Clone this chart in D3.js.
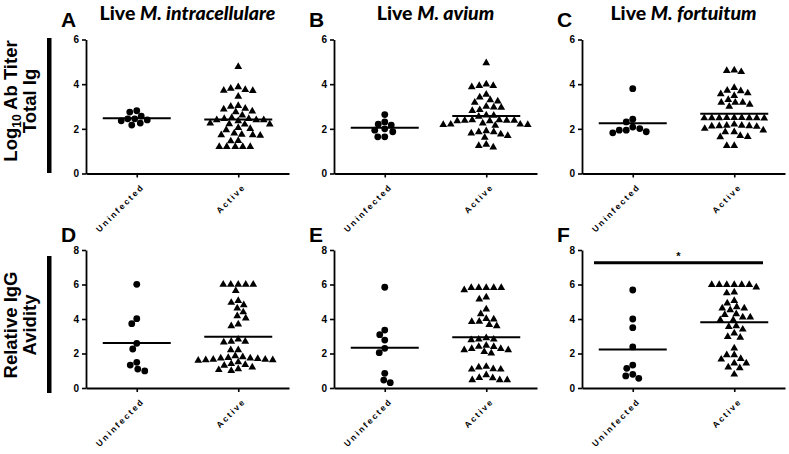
<!DOCTYPE html>
<html><head><meta charset="utf-8">
<script src="https://cdn.jsdelivr.net/npm/d3@7"></script>
<style>html,body{margin:0;padding:0;background:#fff;} svg{display:block;}</style>
</head><body>
<svg id="chart" width="789" height="454"></svg>
<script>
// ---------- data ----------
const categories = ["Uninfected", "Active"];
const panelLetters = ["A", "B", "C", "D", "E", "F"];
const speciesNames = ["M. intracellulare", "M. avium", "M. fortuitum"];
const titerTicks = [0, 2, 4, 6];
const avidityTicks = [0, 2, 4, 6, 8];

const titerIntraUninf = [2.45, 2.36, 2.75, 2.17, 2.57, 2.26, 2.81, 2.40, 2.45];
const titerIntraActive = [4.78, 3.87, 3.81, 3.75, 3.72, 3.71, 3.45, 3.03, 3.00, 2.91, 2.88, 2.79, 2.75, 2.61, 2.50, 2.45, 2.45, 2.40, 2.40, 2.40, 2.35, 2.25, 2.22, 2.21, 2.20, 2.05, 2.00, 1.95, 1.80, 1.75, 1.72, 1.72, 1.70, 1.47, 1.45, 1.20, 1.20, 1.20, 1.20, 1.20];
const titerAviumUninf = [2.00, 2.21, 1.87, 2.64, 2.17, 1.64, 2.31, 1.64, 1.94];
const titerAviumActive = [4.95, 3.93, 3.87, 3.93, 4.00, 3.54, 3.18, 3.29, 3.24, 3.41, 2.97, 2.85, 2.96, 3.00, 2.81, 2.61, 2.55, 2.60, 2.40, 2.37, 2.35, 2.37, 2.37, 2.40, 2.35, 2.20, 2.18, 2.15, 2.18, 2.20, 2.25, 1.86, 1.80, 1.69, 1.61, 1.76, 1.86, 1.90, 1.30, 1.18, 1.24];
const titerFortUninf = [3.80, 2.43, 2.31, 2.01, 1.94, 1.82, 1.87, 1.94, 2.08];
const titerFortActive = [4.62, 4.55, 4.60, 3.84, 3.69, 3.56, 3.48, 3.60, 3.72, 3.18, 3.18, 3.00, 3.09, 3.18, 3.30, 2.49, 2.50, 2.49, 2.48, 2.47, 2.49, 2.49, 2.50, 2.50, 2.15, 2.13, 2.10, 2.12, 2.13, 2.15, 2.20, 2.01, 1.94, 1.86, 1.65, 1.63, 1.69, 1.86, 1.24, 1.24];

const avidIntraUninf = [6.01, 4.02, 3.73, 2.59, 2.26, 1.33, 1.49, 0.99, 1.10];
const avidIntraActive = [6.00, 6.00, 6.00, 6.00, 6.00, 5.64, 4.95, 4.62, 4.81, 5.06, 4.17, 4.04, 4.40, 3.59, 3.69, 2.69, 2.82, 2.69, 2.65, 2.20, 2.20, 1.85, 1.75, 1.70, 1.65, 1.62, 1.60, 1.65, 1.62, 1.72, 1.72, 1.80, 1.40, 1.35, 1.30, 1.00, 1.05, 1.20, 1.50, 1.10];
const avidAviumUninf = [5.84, 3.36, 3.09, 2.78, 2.30, 2.05, 0.85, 0.31, 0.46];
const avidAviumActive = [5.81, 5.81, 5.68, 5.81, 5.81, 5.81, 5.14, 5.26, 4.56, 4.29, 3.98, 3.84, 3.59, 3.67, 3.86, 4.02, 2.82, 2.82, 2.78, 2.90, 2.39, 2.28, 2.20, 2.01, 2.10, 2.47, 2.20, 2.28, 2.40, 1.24, 1.08, 1.08, 1.20, 1.10, 0.75, 0.46, 0.46, 0.46, 0.58, 0.60];
const avidFortUninf = [5.68, 4.00, 3.50, 2.38, 1.33, 1.14, 0.79, 0.56, 0.70];
const avidFortActive = [5.99, 5.99, 5.99, 5.84, 5.99, 5.99, 5.99, 5.50, 5.55, 4.91, 5.06, 4.62, 4.52, 4.62, 4.70, 4.29, 4.10, 3.94, 3.94, 4.10, 4.25, 3.59, 3.40, 3.55, 2.97, 2.93, 3.17, 2.30, 1.66, 1.91, 1.91, 1.70, 1.43, 1.16, 1.43, 1.20, 0.79];

const significance = ["", "", "", "", "", "*"];

// ---------- layout ----------
const svg = d3.select("#chart");
const ARIAL = "'Liberation Sans', Arial, Helvetica, sans-serif";
const TITLEF = "Lato, 'Open Sans', sans-serif";
const colX = [86, 334, 582];
const W = 203;
const rows = [
  { domain: [0, 6], range: [173.5, 39.5], ticks: titerTicks, letterY: 27 },
  { domain: [0, 8], range: [388, 250], ticks: avidityTicks, letterY: 242 }
];
const panels = [
  [titerIntraUninf, titerIntraActive], [titerAviumUninf, titerAviumActive], [titerFortUninf, titerFortActive],
  [avidIntraUninf, avidIntraActive], [avidAviumUninf, avidAviumActive], [avidFortUninf, avidFortActive]
];

function swarm(values, y, cx, w, h) {
  const pts = values.map(v => ({ v, y: y(v) })).sort((a, b) => b.v - a.v);
  const placed = [];
  pts.forEach(p => {
    let off = 0;
    for (let k = 0; k < 400; k++) {
      const o = (k % 2 === 0 ? 1 : -1) * Math.ceil(k / 2) * 0.5;
      let ok = true;
      for (const q of placed) {
        const dx = (o - q.off) / w, dy = (p.y - q.y) / h;
        if (dx * dx + dy * dy < 1) { ok = false; break; }
      }
      if (ok) { off = o; break; }
    }
    p.off = off; p.x = cx + off;
    placed.push(p);
  });
  return pts;
}

panels.forEach((groups, i) => {
  const col = i % 3, row = Math.floor(i / 3);
  const R = rows[row];
  const x0 = colX[col];
  const x = d3.scalePoint().domain(categories).range([x0, x0 + W]).padding(0.5);
  const y = d3.scaleLinear().domain(R.domain).range(R.range);
  const g = svg.append("g");

  // axes
  const ya = g.append("g").attr("transform", `translate(${x0},0)`)
    .call(d3.axisLeft(y).tickValues(R.ticks).tickSize(4).tickSizeOuter(0).tickPadding(3).tickFormat(d3.format("d")));
  const xa = g.append("g").attr("transform", `translate(0,${y(0)})`)
    .call(d3.axisBottom(x).tickSize(4).tickSizeOuter(0).tickFormat(""));
  [ya, xa].forEach(a => {
    a.selectAll("path,line").attr("stroke", "#000").attr("stroke-width", 1.6);
    a.select(".domain").attr("stroke-width", 1.8);
  });
  ya.selectAll("text").attr("font-family", ARIAL).attr("font-weight", "bold").attr("font-size", 10).attr("fill", "#000");

  // x labels
  categories.forEach(c => {
    g.append("text")
      .attr("transform", `translate(${x(c) + 8},${y(0) + 14}) rotate(-45)`)
      .attr("text-anchor", "end")
      .attr("font-family", ARIAL).attr("font-weight", "bold").attr("font-size", 8.5)
      .attr("letter-spacing", 2)
      .text(c);
  });

  // points
  const uninf = swarm(groups[0], y, x(categories[0]), 6.8, 6.8);
  g.selectAll("circle.pt").data(uninf).join("circle").attr("class", "pt")
    .attr("cx", d => d.x).attr("cy", d => d.y).attr("r", 3.4).attr("fill", "#000");
  const act = swarm(groups[1], y, x(categories[1]), 7.2, 6.6);
  const tri = d3.symbol().type(d3.symbolTriangle).size(26);
  g.selectAll("path.pt").data(act).join("path").attr("class", "pt")
    .attr("d", tri).attr("transform", d => `translate(${d.x},${d.y})`).attr("fill", "#000");

  // mean lines
  groups.forEach((vals, k) => {
    const m = d3.mean(vals);
    const cx = x(categories[k]);
    g.append("line").attr("x1", cx - 34).attr("x2", cx + 34)
      .attr("y1", y(m)).attr("y2", y(m)).attr("stroke", "#000").attr("stroke-width", 2);
  });

  // significance
  if (significance[i]) {
    const by = y(7.26);
    g.append("line").attr("x1", x0 + 12).attr("x2", x0 + W - 22).attr("y1", by).attr("y2", by)
      .attr("stroke", "#000").attr("stroke-width", 3);
    g.append("text").attr("x", x0 + 12 + (W - 34) / 2).attr("y", by - 3).attr("text-anchor", "middle")
      .attr("font-family", ARIAL).attr("font-weight", "bold").attr("font-size", 11).text(significance[i]);
  }

  // panel letter
  svg.append("text").attr("x", x0 - 25).attr("y", R.letterY)
    .attr("font-family", ARIAL).attr("font-weight", "bold").attr("font-size", 21).text(panelLetters[i]);

  // titles
  if (row === 0) {
    const t = svg.append("text").attr("x", x0 + W / 2).attr("y", 19.5).attr("text-anchor", "middle")
      .attr("font-family", TITLEF).attr("font-weight", "900").attr("font-size", 19.5);
    t.append("tspan").text("Live ");
    t.append("tspan").attr("font-style", "italic").text(speciesNames[col]);
  }
});

// row labels
function rowLabel(lines, cy, barTop, barH) {
  lines.forEach((ln, j) => {
    const t = svg.append("text").attr("transform", `translate(${17 + j * 19},${cy}) rotate(-90)`)
      .attr("text-anchor", "middle").attr("font-family", ARIAL).attr("font-weight", "bold").attr("font-size", 18.5);
    ln.forEach(part => {
      const s = t.append("tspan").text(part.t);
      if (part.sub) s.attr("font-size", 12).attr("dy", 4);
      if (part.after) s.attr("dy", -4);
    });
  });
  svg.append("rect").attr("x", 47).attr("y", barTop).attr("width", 4.5).attr("height", barH).attr("fill", "#000");
}
rowLabel([[{ t: "Log" }, { t: "10", sub: true }, { t: " Ab Titer", after: true }], [{ t: "Total Ig" }]], 101, 38, 135);
rowLabel([[{ t: "Relative IgG" }], [{ t: "Avidity" }]], 325, 256, 137);
</script>
</body></html>
